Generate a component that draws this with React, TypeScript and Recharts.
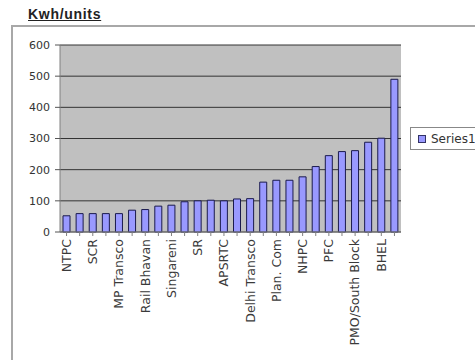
import { BarChart, Bar, XAxis, YAxis, CartesianGrid, Legend } from "recharts";

// every other category is unlabeled in the source chart
const categories = [
  "NTPC", "", "SCR", "", "MP Transco", "", "Rail Bhavan", "", "Singareni", "",
  "SR", "", "APSRTC", "", "Delhi Transco", "", "Plan. Com", "", "NHPC", "",
  "PFC", "", "PMO/South Block", "", "BHEL", "",
];
const series1 = [
  52, 59, 59, 59, 59, 70, 72, 83, 86, 97,
  100, 102, 100, 106, 107, 160, 166, 166, 177, 210,
  245, 258, 261, 288, 301, 490,
];
const yTicks = [0, 100, 200, 300, 400, 500, 600];

const data = categories.map((name, i) => ({ name, value: series1[i] }));

const CategoryTick = (props: any) => {
  const { x, y, payload } = props;
  if (!payload.value) return null;
  return (
    <text
      x={x}
      y={y}
      dy="0.35em"
      transform={`rotate(-90, ${x}, ${y})`}
      textAnchor="end"
      fontFamily="DejaVu Sans, sans-serif"
      fontSize={12.5}
      fill="#3a3a3a"
    >
      {payload.value}
    </text>
  );
};

const LegendBox = () => (
  <div
    style={{
      width: 80,
      height: 23,
      border: "1px solid #888",
      background: "#fff",
      display: "flex",
      alignItems: "center",
      paddingLeft: 7,
      boxSizing: "border-box",
      fontFamily: "DejaVu Sans, sans-serif",
      fontSize: 12,
      color: "#333",
      whiteSpace: "nowrap",
    }}
  >
    <span
      style={{
        width: 6,
        height: 6,
        background: "#9999ff",
        border: "1px solid #333366",
        marginRight: 5,
        display: "inline-block",
        flexShrink: 0,
      }}
    />
    Series1
  </div>
);

export default function App() {
  return (
    <div
      style={{
        position: "absolute",
        left: 0,
        top: 0,
        width: 475,
        height: 360,
        overflow: "hidden",
        background: "#fff",
      }}
    >
      <div
        style={{
          position: "absolute",
          left: 11,
          top: 25,
          width: 520,
          height: 400,
          borderLeft: "2px solid #a8a8a8",
          borderTop: "2px solid #a8a8a8",
        }}
      />
      <div
        style={{
          position: "absolute",
          left: 28,
          top: 6,
          fontFamily: "Liberation Sans, Arial, sans-serif",
          fontWeight: "bold",
          fontSize: 14,
          letterSpacing: 0.7,
          textDecoration: "underline",
          color: "#222",
        }}
      >
        Kwh/units
      </div>
      <div style={{ position: "absolute", left: 0, top: 0 }}>
        <BarChart
          width={475}
          height={360}
          data={data}
          margin={{ top: 45, right: 74, bottom: 0, left: 0 }}
          barSize={7}
        >
          <CartesianGrid vertical={false} fill="#c0c0c0" stroke="#333" />
          <XAxis
            dataKey="name"
            interval={0}
            height={128}
            tick={<CategoryTick />}
            tickSize={4}
            tickMargin={3}
            axisLine={{ stroke: "#808080" }}
            tickLine={{ stroke: "#808080" }}
          />
          <YAxis
            width={60}
            domain={[0, 600]}
            ticks={yTicks}
            interval={0}
            tickSize={5}
            tickMargin={5}
            axisLine={{ stroke: "#808080" }}
            tickLine={{ stroke: "#555" }}
            tick={{ fill: "#333", fontSize: 11, fontFamily: "DejaVu Sans, sans-serif" }}
          />
          <Legend
            layout="horizontal"
            verticalAlign="middle"
            align="center"
            content={<LegendBox />}
            wrapperStyle={{ left: 410, top: 127, width: 80 }}
          />
          <Bar
            dataKey="value"
            name="Series1"
            fill="#9999ff"
            stroke="#1a1a4d"
            strokeWidth={1}
            isAnimationActive={false}
          />
        </BarChart>
      </div>
    </div>
  );
}
